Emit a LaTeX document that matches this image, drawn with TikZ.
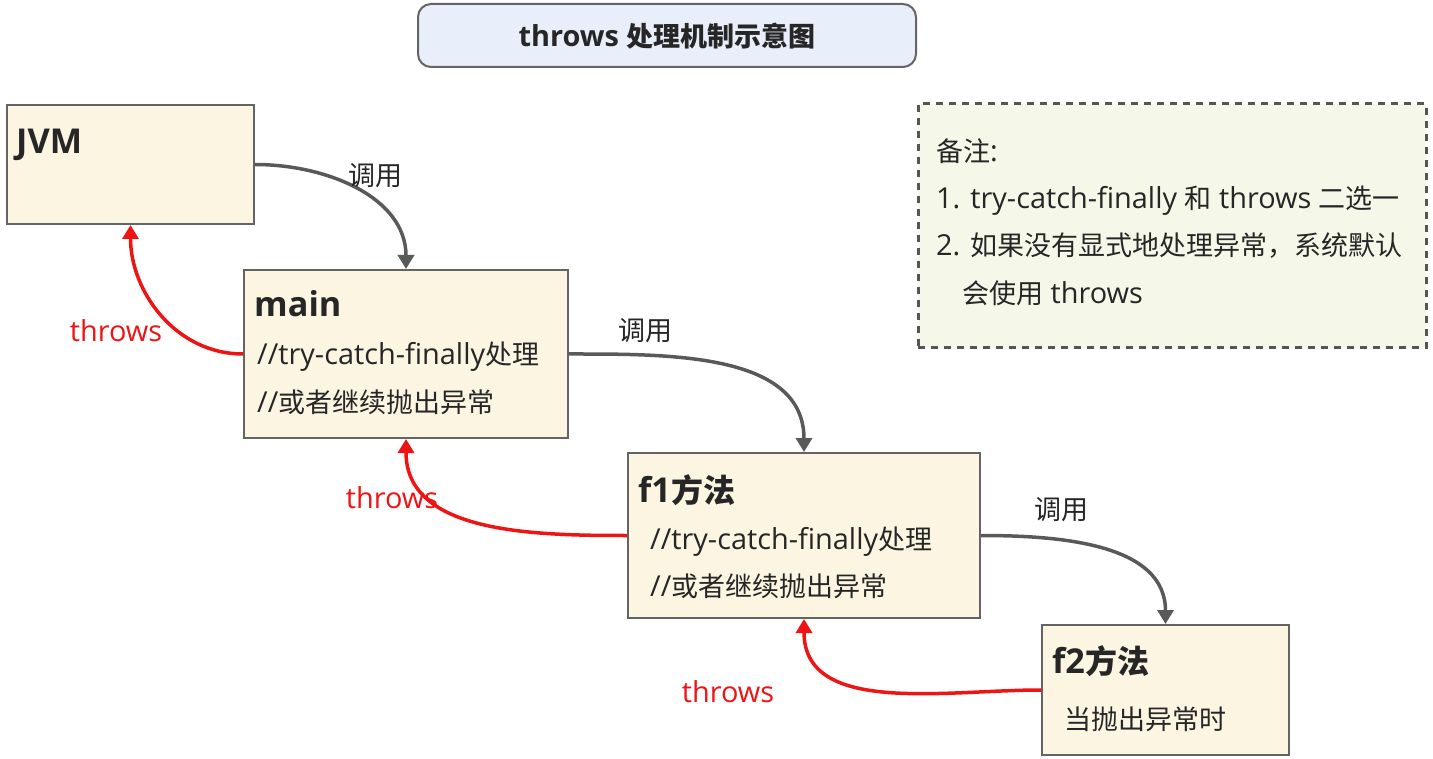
\documentclass[tikz,border=0pt]{standalone}
\usepackage{fontspec}
\setmainfont{Open Sans}[Scale=1.07]
\newfontfamily\cjk{Noto Sans CJK SC}
\newcommand{\zh}[1]{{\cjk #1}}
\usetikzlibrary{arrows.meta}
\definecolor{boxfill}{RGB}{251,245,225}
\definecolor{boxline}{RGB}{100,100,100}
\definecolor{titlefill}{RGB}{232,238,250}
\definecolor{notefill}{RGB}{245,248,233}
\definecolor{notedash}{RGB}{85,85,85}
\definecolor{callgray}{RGB}{89,89,89}
\definecolor{throwred}{RGB}{238,20,20}
\definecolor{txt}{RGB}{38,38,38}
\tikzset{
  box/.style={draw=boxline, line width=2pt, fill=boxfill, inner sep=0pt, rectangle},
  titlebox/.style={draw=boxline, line width=2pt, fill=titlefill, rounded corners=13pt, inner sep=0pt},
  notebox/.style={draw=notedash, line width=3pt, fill=notefill, dash pattern=on 7pt off 6pt, inner sep=0pt},
  head/.style={anchor=base west, inner sep=0pt, text=txt, font=\fontsize{32}{36}\selectfont\bfseries},
  body/.style={anchor=base west, inner sep=0pt, text=txt, font=\fontsize{27}{32}\selectfont},
  lbl/.style={inner sep=0pt, text=txt, font=\fontsize{27}{32}\selectfont},
  redlbl/.style={inner sep=0pt, text=throwred, font=\fontsize{27}{32}\selectfont},
  callarrow/.style={draw=callgray, line width=3.5pt, -{Triangle[length=14pt,width=16pt]}},
  throwarrow/.style={draw=throwred, line width=3.5pt, -{Triangle[length=14pt,width=16pt]}},
}
\begin{document}
\begin{tikzpicture}[x=1pt,y=1pt]
\useasboundingbox (0,0) rectangle (1433,-759);
% title
\node[titlebox, minimum width=498pt, minimum height=63pt] (title) at (667,-35.5) {};
\node[inner sep=0pt, text=txt, font=\fontsize{27}{32}\selectfont\bfseries] (titletext) at (667,-36) {throws {\cjk\bfseries 处理机制示意图}};
% boxes
\node[box, minimum width=247pt, minimum height=119pt] (jvm) at (130.5,-164.5) {};
\node[box, minimum width=324pt, minimum height=168pt] (main) at (406,-354) {};
\node[box, minimum width=352pt, minimum height=165pt] (f1) at (804,-535.5) {};
\node[box, minimum width=247pt, minimum height=130pt] (f2) at (1165.5,-690) {};
\node[notebox, minimum width=508pt, minimum height=244pt] (note) at (1172,-226) {};
% box texts
\node[head] (jvmh) at (16,-154) {JVM};
\node[head] (mainh) at (254,-317) {main};
\node[body] (main1) at (257,-365) {//try-catch-finally\zh{处理}};
\node[body] (main2) at (257,-412) {//\zh{或者继续抛出异常}};
\node[head] (f1h) at (638,-502) {f1\zh{方法}};
\node[body] (f11) at (650,-549) {//try-catch-finally\zh{处理}};
\node[body] (f12) at (650,-596) {//\zh{或者继续抛出异常}};
\node[head] (f2h) at (1052,-673) {f2\zh{方法}};
\node[body] (f21) at (1064,-729) {\zh{当抛出异常时}};
% note texts
\node[body] (n0) at (936,-162) {\zh{备注}:};
\node[body] (n1) at (936,-209) {1. try-catch-finally \zh{和} throws \zh{二选一}};
\node[body] (n2) at (936,-256) {2. \zh{如果没有显式地处理异常，系统默认}};
\node[body] (n3) at (962,-304) {\zh{会使用} throws};
% call arrows
\draw[callarrow] (jvm.east) to[out=0,in=90] (main.north);
\draw[callarrow] (main.east) to[out=0,in=90] (f1.north);
\draw[callarrow] (f1.east) to[out=0,in=90] (f2.north);
\node[lbl] (c1) at (375,-176) {\zh{调用}};
\node[lbl] (c2) at (645,-331) {\zh{调用}};
\node[lbl] (c3) at (1061,-510) {\zh{调用}};
% throws arrows
\draw[throwarrow] (main.west) to[out=180,in=-90] (jvm.south);
\draw[throwarrow] (f1.west) to[out=180,in=-90] (main.south);
\draw[throwarrow] (f2.west) to[out=180,in=-90] (f1.south);
\node[redlbl] (t1) at (116,-331) {throws};
\node[redlbl] (t2) at (392,-498) {throws};
\node[redlbl] (t3) at (728,-692) {throws};
\end{tikzpicture}
\end{document}
